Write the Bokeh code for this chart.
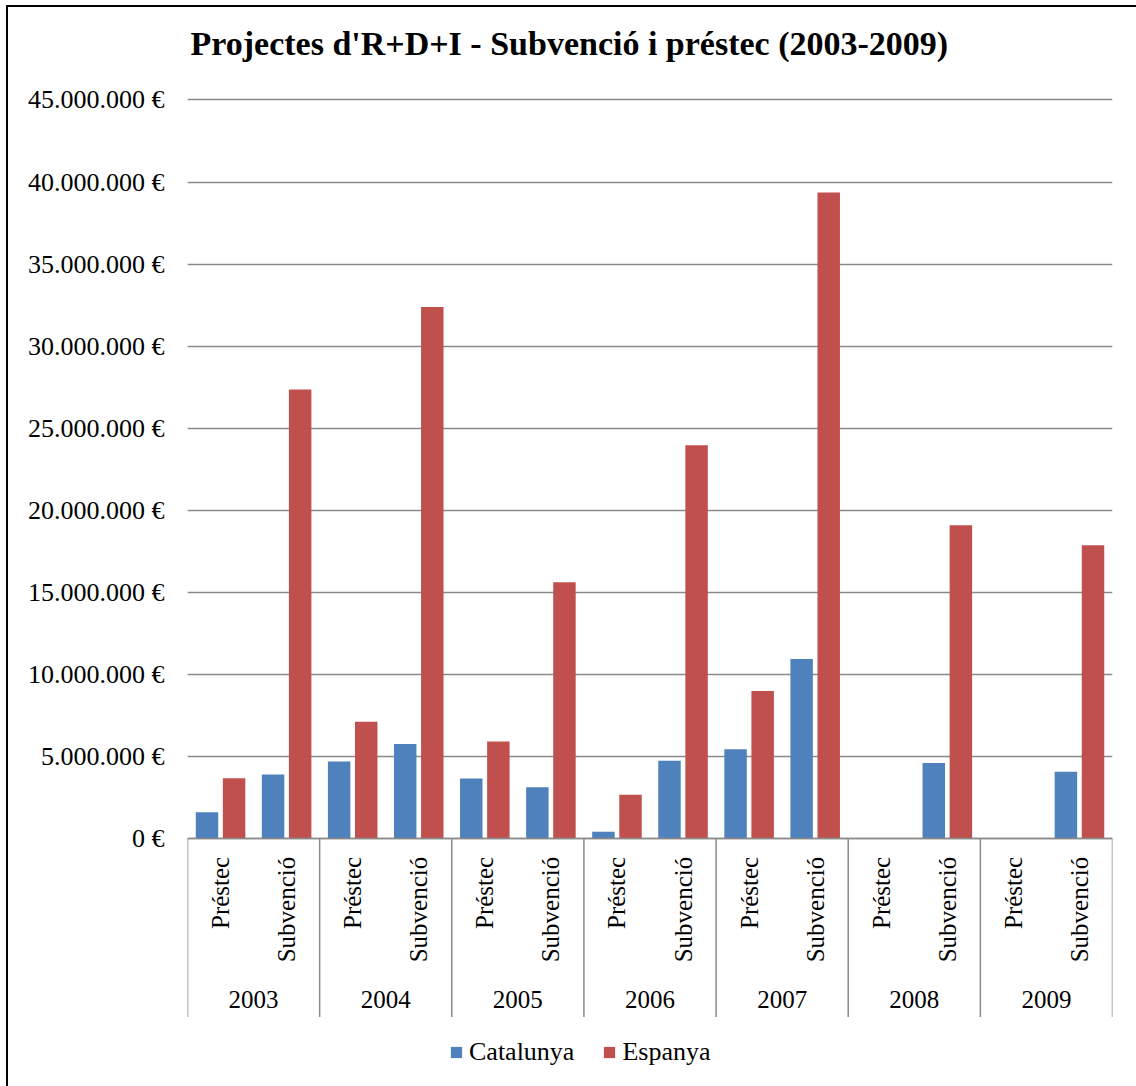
from math import pi

from bokeh.embed import file_html
from bokeh.models import ColumnDataSource, FactorRange, Label, Legend, LegendItem, Range1d
from bokeh.plotting import figure
from bokeh.resources import INLINE
from bokeh.transform import dodge

# --- data -------------------------------------------------------------------
years = ["2003", "2004", "2005", "2006", "2007", "2008", "2009"]
kinds = ["Préstec", "Subvenció"]

# one value per (year, kind), in the order 2003 Préstec, 2003 Subvenció, 2004 ...
catalunya = [1620000, 3910000, 4700000, 5780000, 3670000, 3140000, 430000,
             4760000, 5450000, 10950000, 0, 4620000, 0, 4080000]
espanya = [3690000, 27370000, 7130000, 32390000, 5920000, 15630000, 2680000,
           23970000, 9000000, 39370000, 0, 19100000, 0, 17880000]

y_ticks = [0, 5000000, 10000000, 15000000, 20000000, 25000000, 30000000,
           35000000, 40000000, 45000000]
y_tick_labels = [f"{v:,}".replace(",", ".") + " €" for v in y_ticks]

series_names = ["Catalunya", "Espanya"]
series_colors = ["#4F81BD", "#C0504D"]
title_text = "Projectes d'R+D+I - Subvenció i préstec (2003-2009)"

# --- styling / layout -------------------------------------------------------
FONT = "Liberation Serif"
GRID = "#8a8a8a"
Y_TOP = 50630000          # headroom above the last tick holds the title
Y_BOTTOM = -14600000      # room below zero for category labels and legend
LABEL_BAND = -10850000    # depth of the category label band below zero
YEAR_BASELINE = -9790000

factors = [(y, k) for y in years for k in kinds]
source = ColumnDataSource(data=dict(x=factors, cat=catalunya, esp=espanya))

x_range = FactorRange(*factors, factor_padding=0, group_padding=0,
                      subgroup_padding=0, range_padding=0)

p = figure(
    x_range=x_range,
    y_range=Range1d(Y_BOTTOM, Y_TOP),
    frame_width=925, frame_height=1071,
    min_border_left=179, min_border_right=24,
    min_border_top=0, min_border_bottom=8,
    output_backend="svg", toolbar_location=None,
)
p.styles = {"border-left": "2px solid black", "border-top": "2px solid black",
            "margin-left": "6px", "margin-top": "5px"}
p.outline_line_color = None
p.background_fill_color = "white"

# bars
r_cat = p.vbar(x=dodge("x", -0.205, range=p.x_range), top="cat", width=0.34,
               source=source, fill_color=series_colors[0], line_color=None)
r_esp = p.vbar(x=dodge("x", 0.205, range=p.x_range), top="esp", width=0.34,
               source=source, fill_color=series_colors[1], line_color=None)

# group separators through the category label band
bounds = [2 * i for i in range(len(years) + 1)]
p.segment(x0=bounds, y0=[0] * len(bounds), x1=bounds, y1=[LABEL_BAND] * len(bounds),
          line_color=GRID, line_width=1.5)

# year labels centred under each pair of categories
p.text(x=years, y=[YEAR_BASELINE] * len(years), text=years,
       text_align="center", text_baseline="alphabetic",
       text_font={"value": FONT}, text_font_size={"value": "25px"},
       text_color="black")

# y axis
yax = p.yaxis[0]
yax.ticker = y_ticks
yax.major_label_overrides = {t: lab for t, lab in zip(y_ticks, y_tick_labels)}
yax.axis_line_color = None
yax.major_tick_line_color = None
yax.minor_tick_line_color = None
yax.major_label_text_font = FONT
yax.major_label_text_font_size = "26px"
yax.major_label_text_color = "black"
yax.major_label_standoff = 17

p.ygrid.grid_line_color = GRID
p.ygrid.grid_line_width = 1.5
p.xgrid.grid_line_color = None

# x axis pinned at zero, loan / grant labels below it
xax = p.xaxis[0]
xax.fixed_location = 0
xax.axis_line_color = GRID
xax.axis_line_width = 1.5
xax.major_tick_line_color = None
xax.minor_tick_line_color = None
xax.separator_line_color = None
xax.major_label_orientation = pi / 2
xax.major_label_text_font = FONT
xax.major_label_text_font_size = "25px"
xax.major_label_text_color = "black"
xax.major_label_standoff = 12
xax.group_text_color = None

# chart title
p.add_layout(Label(x=0, y=45000000, x_offset=3, y_offset=56, text=title_text,
                   text_font=FONT, text_font_size="34px", text_font_style="bold",
                   text_color="black", text_baseline="alphabetic"))

legend = Legend(
    items=[LegendItem(label=series_names[0], renderers=[r_cat]),
           LegendItem(label=series_names[1], renderers=[r_esp])],
    orientation="horizontal", location=(262, 11),
    glyph_width=14, glyph_height=14, label_standoff=6, spacing=28,
    padding=0, margin=0, border_line_color=None, background_fill_alpha=0,
    label_text_font=FONT, label_text_font_size="26px", label_text_color="black",
)
p.add_layout(legend)

open("out.html", "w").write(file_html(p, INLINE))
